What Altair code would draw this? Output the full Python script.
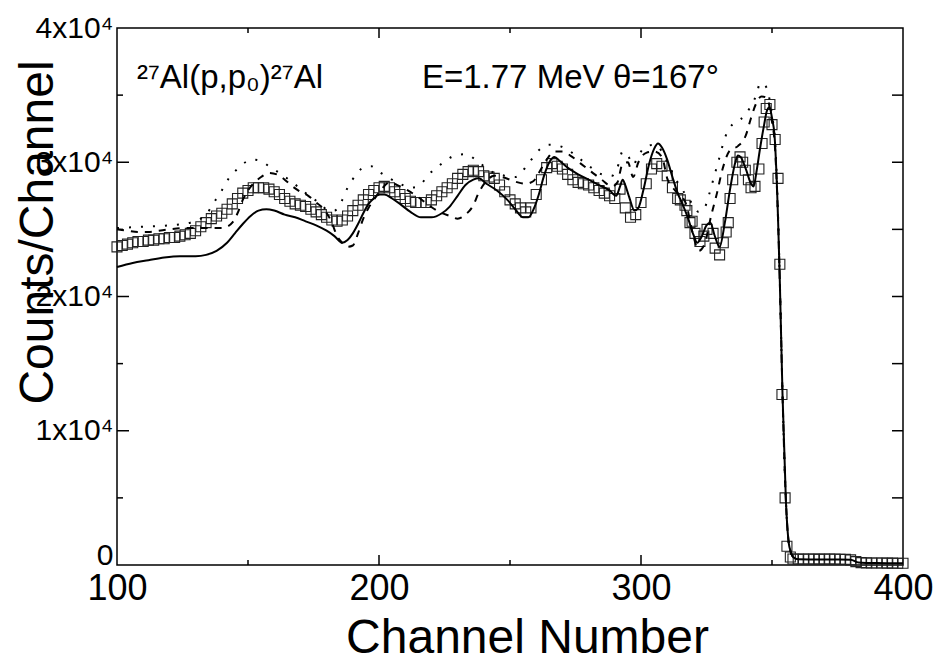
import altair as alt
import pandas as pd

# ---------------- data ----------------
exp_ch = [100, 102, 104, 106, 108, 110, 112, 114, 116, 118, 120, 122, 124, 126, 128, 130,
          132, 134, 136, 138, 140, 142, 144, 146, 148, 150, 152, 154, 156, 158, 160, 162,
          164, 166, 168, 170, 172, 174, 176, 178, 180, 182, 184, 186, 188, 190, 192, 194,
          196, 198, 200, 202, 204, 206, 208, 210, 212, 214, 216, 218, 220, 222, 224, 226,
          228, 230, 232, 234, 236, 238, 240, 242, 244, 246, 248, 250, 252, 254, 256, 258,
          260, 262, 264, 266, 268, 270, 272, 274, 276, 278, 280, 282, 284, 286, 288, 290,
          292, 294, 296, 298, 300, 302, 304, 306, 308, 310, 312, 314, 315, 316.8, 317.5,
          318.7, 319.5, 320.6, 322.5, 324, 325.2, 327.5, 328.3, 330, 331.4, 332.5, 333.3,
          334, 335, 336.6, 337.8, 338.8, 339.8, 341, 342, 343.5, 345, 346.2, 347, 347.8,
          349.2, 350, 351.2, 352.3, 353, 353.8, 355, 355.7, 357, 358, 360, 362, 364, 366,
          368, 370, 372, 374, 376, 378, 380, 382, 384, 386, 388, 390, 392, 394, 396, 398, 400]
exp_counts = [23700, 23800, 23900, 24000, 24100, 24100, 24200, 24200, 24300, 24300, 24400,
              24400, 24500, 24600, 24700, 24900, 25200, 25500, 25800, 26000, 26200, 26500,
              26900, 27300, 27700, 27900, 28100, 28100, 28100, 28000, 27800, 27600, 27300,
              27100, 26900, 26800, 26700, 26500, 26300, 26100, 25900, 25700, 25600, 25700,
              26000, 26400, 26800, 27200, 27600, 27900, 28100, 28200, 28100, 27800, 27600,
              27300, 27100, 27000, 27000, 27000, 27200, 27500, 27800, 28100, 28400, 28800,
              29100, 29300, 29400, 29300, 29000, 28900, 28800, 28300, 27800, 27200, 26900,
              26600, 26300, 26600, 27600, 28700, 29600, 29900, 29700, 29500, 29100, 28700,
              28500, 28400, 28300, 28100, 27900, 27700, 27500, 27300, 28000, 26600, 25900,
              26100, 27000, 28400, 29500, 29900, 29700, 29000, 28100, 27300, 27200, 26800,
              26400, 25500, 25600, 24700, 24100, 24500, 25000, 24700, 23600, 23100, 24000,
              24800, 25500, 27300, 28700, 30000, 30400, 30000, 29400, 28700, 28100, 28200,
              29500, 31400, 33000, 34000, 34300, 32800, 31700, 28800, 22400, 12700, 5000,
              1400, 600, 450, 440, 440, 450, 440, 440, 440, 450, 440, 430, 420, 380, 250,
              180, 160, 150, 150, 150, 140, 140, 130, 130]

solid_ch = [100, 106, 112, 118, 124, 130, 134, 138, 142, 145, 148, 151, 154, 157, 160, 164,
            168, 172, 176, 180, 183, 186, 188, 190, 192, 194, 196, 198, 200, 202, 205, 208,
            212, 216, 220, 224, 227, 230, 233, 236, 238, 241, 245, 249, 252, 255, 257, 259,
            261, 263, 265, 267, 269, 272, 276, 280, 284, 288, 290.5, 292, 293, 294, 295.5,
            297.5, 299, 301, 303, 305, 306.5, 308, 310, 312, 314, 316, 318, 320, 321.5, 323,
            325, 326.5, 328, 330, 332, 334, 336, 337, 338, 340, 342, 343, 344, 345.5, 347,
            348, 349, 350, 351, 352.4, 353, 354, 355.3, 356.5, 357, 358, 360, 370, 380, 383,
            386, 390, 400]
solid_counts = [22200, 22500, 22700, 22900, 23000, 23000, 23100, 23400, 24000, 24700, 25400,
                26000, 26400, 26500, 26400, 26100, 25900, 25600, 25300, 24900, 24500, 24000,
                24200, 24700, 25400, 26200, 26900, 27300, 27600, 27600, 27300, 26900, 26300,
                25900, 25900, 26200, 26700, 27500, 28300, 28700, 28800, 28400, 27900, 27200,
                26500, 25900, 25900, 26500, 27600, 29000, 30000, 30400, 30100, 29600, 29100,
                28700, 28300, 27900, 27500, 28200, 28700, 28300, 27400, 26400, 26600, 28000,
                29800, 31000, 31400, 31100, 30200, 28900, 27700, 26800, 25800, 24600, 24000,
                24400, 25300, 25500, 24600, 23700, 25500, 28000, 30000, 30500, 30400, 29500,
                28400, 28200, 29200, 31100, 32800, 33800, 34100, 33300, 31900, 25200, 21000,
                12800, 4800, 1500, 1100, 600, 420, 410, 400, 180, 150, 140, 130]

dashed_ch = [100, 104, 108, 112, 116, 120, 126, 132, 136, 140, 142, 144, 146, 148, 150, 152,
             155, 158, 161, 164, 167, 170, 173, 176, 179, 182, 184, 186, 188, 190, 192, 194,
             196, 198, 201, 204, 207, 211, 215, 219, 223, 227, 230, 233, 236, 238, 241, 244,
             247, 250, 253, 256, 259, 261, 264, 267, 270, 273, 277, 281, 285, 289, 291, 293,
             295, 297, 299, 302, 305, 308, 310, 313, 317, 320, 322, 324, 327, 329, 331, 334,
             337, 340, 342, 344, 346, 348, 350, 351, 352.4, 353, 354, 355.3, 356.5, 358]
dashed_counts = [25000, 24900, 24800, 24800, 24900, 25000, 25100, 25100, 25100, 25100, 25200,
                 25500, 26200, 27200, 27900, 28400, 28900, 29200, 29100, 28700, 28200, 27800,
                 27500, 27000, 26500, 25500, 24500, 24000, 23700, 23800, 24700, 25800, 26600,
                 27200, 28000, 28500, 28300, 27900, 27400, 26800, 26300, 26000, 25800, 26100,
                 26800, 27700, 28600, 29000, 28900, 28700, 28500, 28400, 28600, 29200, 30200,
                 30800, 30800, 30500, 29900, 29300, 28700, 28200, 28500, 29900, 30000, 28900,
                 30000, 30700, 30800, 30400, 28800, 27900, 27000, 24500, 23400, 23800, 26200,
                 27700, 29400, 30900, 31200, 32000, 33300, 34400, 34900, 34800, 33000, 31500,
                 25200, 21000, 12800, 4800, 1500, 600]

dotted_ch = [100, 110, 120, 128, 132, 134, 137, 140, 143, 146, 149, 152, 155, 158, 162, 167,
             172, 177, 181, 183, 186, 188, 191, 194, 197, 200, 204, 208, 212, 215, 219, 224,
             229, 233, 238, 243, 248, 252, 257, 261, 265, 269, 273, 277, 281, 285, 289, 291,
             293, 295, 297, 299, 302, 305, 308, 311, 314, 317, 320, 322, 324, 326, 328, 330,
             332, 334, 336, 338, 340, 342, 344, 345.5, 347, 348.5, 350, 351.2, 352.4, 353,
             354, 355.3, 356.5, 358]
dotted_counts = [25100, 25200, 25300, 25500, 25800, 26100, 27000, 27900, 28900, 29500, 30000,
                 30200, 30100, 29700, 29200, 28500, 27700, 27000, 26400, 26400, 27200, 28100,
                 29000, 29600, 29700, 29300, 28800, 28400, 28100, 28200, 29100, 29900, 30500,
                 30600, 30000, 29300, 29000, 28900, 29900, 30900, 31300, 31200, 30800, 30200,
                 29600, 29100, 29000, 29600, 30800, 30500, 29800, 30500, 31200, 31300, 30800,
                 29600, 28500, 27600, 26800, 26300, 26500, 27600, 29000, 30400, 31800, 32600,
                 33000, 33200, 33600, 34200, 35000, 35900, 35800, 35200, 33500, 31500, 25500,
                 21000, 12800, 4800, 1500, 600]

x_major = [200, 300]
x_minor = [150, 250, 350]
y_major = [10000, 20000, 30000]
y_minor = [5000, 15000, 25000, 35000]

notes = ["²⁷Al(p,p₀)²⁷Al", "E=1.77 MeV", "θ=167°"]
note_ch = [107.6, 216.4, 289.3]
note_cnt = [35500, 35500, 35500]

# ---------------- chart ----------------
W, H = 786, 537
FONT = "Liberation Sans"

xs = alt.Scale(domain=[100, 400], nice=False, zero=False)
ys = alt.Scale(domain=[0, 40000], nice=False)

exp_df = pd.DataFrame({"ch": exp_ch, "cnt": exp_counts})
solid_df = pd.DataFrame({"ch": solid_ch, "cnt": solid_counts})
dashed_df = pd.DataFrame({"ch": dashed_ch, "cnt": dashed_counts})
dotted_df = pd.DataFrame({"ch": dotted_ch, "cnt": dotted_counts})
note_df = pd.DataFrame({"ch": note_ch, "cnt": note_cnt, "t": notes})

x_axis = alt.Axis(
    values=[100, 200, 300, 400], format="d", ticks=False, domain=False, grid=False,
    labelFontSize=36, labelFont=FONT, labelColor="black", labelPadding=6, labelFlush=False,
    title="Channel Number", titleFontSize=48, titleFont=FONT, titleFontWeight="normal",
    titleColor="black", titleX=410, titleY=87, titleBaseline="alphabetic", titleAnchor="middle",
)
y_axis = alt.Axis(
    values=[0, 10000, 20000, 30000, 40000], ticks=False, domain=False, grid=False,
    labelExpr="datum.value == 0 ? '0' : format(datum.value / 10000, 'd') + 'x10⁴'",
    labelOffset={"condition": {"test": "datum.value == 0", "value": -10}, "value": 0},
    labelFontSize=30, labelFont=FONT, labelColor="black", labelPadding=4,
    title="Counts/Channel", titleFontSize=48, titleFont=FONT, titleFontWeight="normal",
    titleColor="black", titleAngle=270, titleX=-65, titleY=204, titleBaseline="alphabetic",
    titleAlign="center",
)

squares = alt.Chart(exp_df).mark_point(
    shape="square", filled=False, size=100, stroke="#222222", strokeWidth=1.1, opacity=1
).encode(
    x=alt.X("ch:Q", scale=xs, axis=x_axis),
    y=alt.Y("cnt:Q", scale=ys, axis=y_axis),
)

def curve(df, dash=None):
    kw = dict(color="black", strokeWidth=2, interpolate="monotone")
    if dash is not None:
        kw["strokeDash"] = dash
    return alt.Chart(df).mark_line(**kw).encode(
        x=alt.X("ch:Q", scale=xs), y=alt.Y("cnt:Q", scale=ys)
    )

solid = curve(solid_df)
dashed = curve(dashed_df, [7, 7])
dotted = curve(dotted_df, [2, 10])

# inward ticks on all four sides
def xticks(vals, length):
    d = pd.DataFrame({"ch": vals})
    bottom = alt.Chart(d).mark_rule(color="black", strokeWidth=1.5).encode(
        x=alt.X("ch:Q", scale=xs), y=alt.value(H - length), y2=alt.value(H))
    top = alt.Chart(d).mark_rule(color="black", strokeWidth=1.5).encode(
        x=alt.X("ch:Q", scale=xs), y=alt.value(0), y2=alt.value(length))
    return [bottom, top]

def yticks(vals, left_len, right_len):
    d = pd.DataFrame({"cnt": vals})
    left = alt.Chart(d).mark_rule(color="black", strokeWidth=1.5).encode(
        y=alt.Y("cnt:Q", scale=ys), x=alt.value(0), x2=alt.value(left_len))
    right = alt.Chart(d).mark_rule(color="black", strokeWidth=1.5).encode(
        y=alt.Y("cnt:Q", scale=ys), x=alt.value(W - right_len), x2=alt.value(W))
    return [left, right]

tick_layers = xticks(x_major, 10) + xticks(x_minor, 5) + yticks(y_major, 12, 11) + yticks(y_minor, 6, 11)

labels = alt.Chart(note_df).mark_text(
    align="left", baseline="alphabetic", fontSize=33, font=FONT, color="black"
).encode(x=alt.X("ch:Q", scale=xs), y=alt.Y("cnt:Q", scale=ys), text="t:N")

chart = alt.layer(
    squares, dotted, dashed, solid, labels, *tick_layers
).properties(
    width=W, height=H,
    autosize=alt.AutoSizeParams(type="none"),
    padding={"left": 117, "top": 28, "right": 47, "bottom": 101},
    background="white",
).configure_view(
    stroke="black", strokeWidth=1.5
)

chart.save("out.html", embed_options={"renderer": "svg", "actions": False})
